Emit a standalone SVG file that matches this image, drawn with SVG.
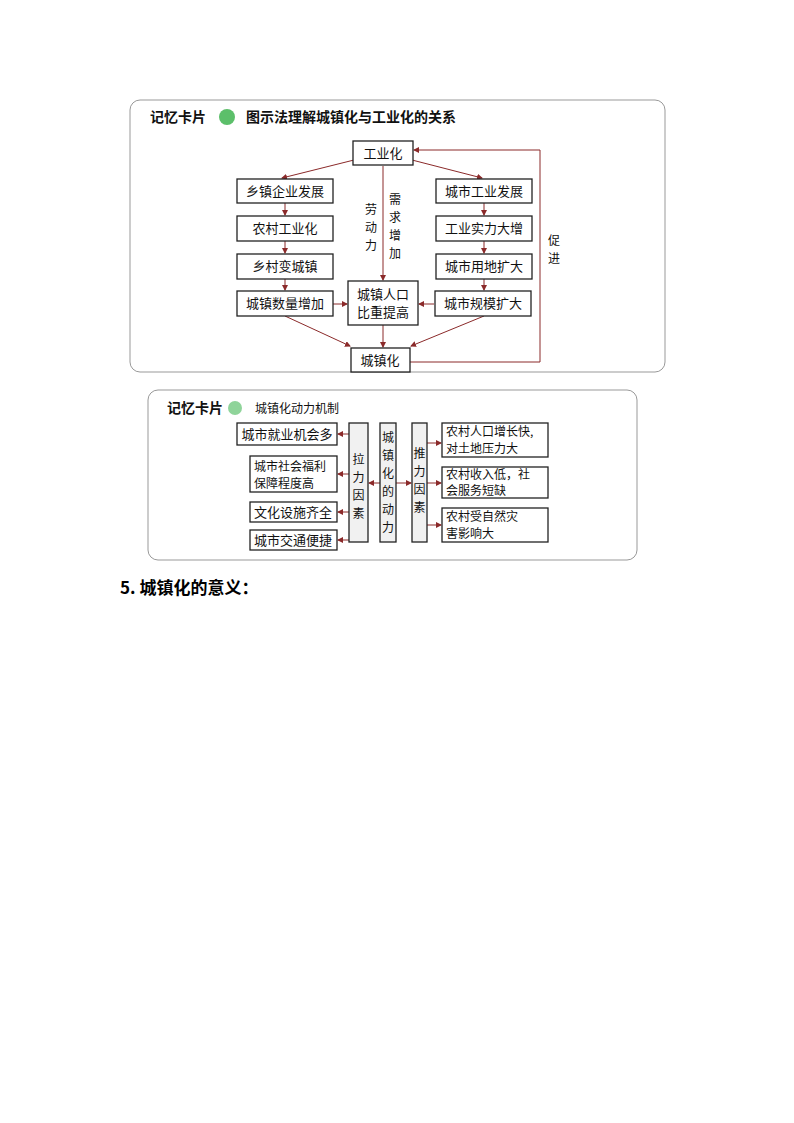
<svg xmlns="http://www.w3.org/2000/svg" width="794" height="1123" viewBox="0 0 794 1123">
<defs>
<marker id="a" markerWidth="6" markerHeight="6" refX="5" refY="3" orient="auto" markerUnits="userSpaceOnUse"><path d="M0,0 L6,3 L0,6 z" fill="#8b2a2a"/></marker>
<style>
.b{fill:#fff;stroke:#222;stroke-width:1.3}
.g{fill:#f1f1f1;stroke:#222;stroke-width:1.3}
.t{font-family:"Noto Sans CJK SC","Noto Sans",sans-serif;font-size:13px;fill:#111;text-anchor:middle}
.v{font-family:"Noto Sans CJK SC",sans-serif;font-size:12px;fill:#111;text-anchor:middle}
.s{font-family:"Noto Sans CJK SC",sans-serif;font-size:12px;fill:#111}
.h{font-family:"Noto Sans CJK SC",sans-serif;font-size:14px;font-weight:bold;fill:#111}
.c{fill:none;stroke:#8b2a2a;stroke-width:1;marker-end:url(#a)}
.card{fill:#fff;stroke:#999;stroke-width:1}
</style>
</defs>
<rect width="794" height="1123" fill="#fff"/>
<g id="card1">
<rect class="card" x="130" y="100" width="535" height="272" rx="10"/>
<text class="h" x="150" y="122">记忆卡片</text>
<circle cx="227" cy="117" r="8" fill="#5cbf6a"/>
<text class="h" x="246" y="122" font-weight="normal">图示法理解城镇化与工业化的关系</text>
</g>
<g id="connectors1">
<line class="c" x1="354" y1="160" x2="282" y2="178"/>
<line class="c" x1="412" y1="160" x2="482" y2="178"/>
<line class="c" x1="285" y1="203" x2="285" y2="215"/>
<line class="c" x1="285" y1="241" x2="285" y2="253"/>
<line class="c" x1="285" y1="279" x2="285" y2="290"/>
<line class="c" x1="484" y1="203" x2="484" y2="215"/>
<line class="c" x1="484" y1="241" x2="484" y2="253"/>
<line class="c" x1="484" y1="279" x2="484" y2="290"/>
<line class="c" x1="333" y1="304" x2="347" y2="304"/>
<line class="c" x1="434" y1="304" x2="419" y2="304"/>
<line class="c" x1="383" y1="166" x2="383" y2="280"/>
<line class="c" x1="383" y1="325" x2="383" y2="347"/>
<line class="c" x1="285" y1="316" x2="350" y2="346"/>
<line class="c" x1="484" y1="316" x2="411" y2="346"/>
<polyline class="c" points="410,362 540,362 540,150 414,150"/>
</g>
<g id="n1"><rect class="b" x="353" y="141" width="60" height="24"/><text class="t" x="383" y="158">工业化</text></g>
<g id="n2"><rect class="b" x="237" y="179" width="96" height="24"/><text class="t" x="285" y="196">乡镇企业发展</text></g>
<g id="n3"><rect class="b" x="237" y="216" width="96" height="25"/><text class="t" x="285" y="233">农村工业化</text></g>
<g id="n4"><rect class="b" x="237" y="254" width="96" height="25"/><text class="t" x="285" y="271">乡村变城镇</text></g>
<g id="n5"><rect class="b" x="237" y="291" width="96" height="25"/><text class="t" x="285" y="308">城镇数量增加</text></g>
<g id="n6"><rect class="b" x="436" y="179" width="96" height="24"/><text class="t" x="484" y="196">城市工业发展</text></g>
<g id="n7"><rect class="b" x="436" y="216" width="96" height="25"/><text class="t" x="484" y="233">工业实力大增</text></g>
<g id="n8"><rect class="b" x="436" y="254" width="96" height="25"/><text class="t" x="484" y="271">城市用地扩大</text></g>
<g id="n9"><rect class="b" x="435" y="291" width="96" height="25"/><text class="t" x="483" y="308">城市规模扩大</text></g>
<g id="n10"><rect class="b" x="348" y="281" width="70" height="44"/><text class="t" x="383" y="299">城镇人口</text><text class="t" x="383" y="317">比重提高</text></g>
<g id="n11"><rect class="b" x="351" y="348" width="59" height="24"/><text class="t" x="380" y="365">城镇化</text></g>
<g id="labels1">
<text class="v" x="371" y="214">劳</text><text class="v" x="371" y="232">动</text><text class="v" x="371" y="250">力</text>
<text class="v" x="395" y="204">需</text><text class="v" x="395" y="222">求</text><text class="v" x="395" y="240">增</text><text class="v" x="395" y="258">加</text>
<text class="v" x="554" y="245">促</text><text class="v" x="554" y="263">进</text>
</g>
<g id="card2">
<rect class="card" x="148" y="390" width="489" height="170" rx="10"/>
<text class="h" x="167" y="413">记忆卡片</text>
<circle cx="235" cy="408" r="7" fill="#8fd49a"/>
<text class="s" x="255" y="413">城镇化动力机制</text>
</g>
<g id="connectors2">
<line class="c" x1="349" y1="434" x2="338" y2="434"/>
<line class="c" x1="349" y1="474" x2="338" y2="474"/>
<line class="c" x1="349" y1="512" x2="338" y2="512"/>
<line class="c" x1="349" y1="540" x2="338" y2="540"/>
<line class="c" x1="380" y1="483" x2="369" y2="483"/>
<line class="c" x1="396" y1="483" x2="411" y2="483"/>
<line class="c" x1="427" y1="443" x2="441" y2="443"/>
<line class="c" x1="427" y1="483" x2="441" y2="483"/>
<line class="c" x1="427" y1="525" x2="441" y2="525"/>
</g>
<g id="m1"><rect class="b" x="237" y="423" width="100" height="22"/><text class="t" x="287" y="439">城市就业机会多</text></g>
<g id="m2"><rect class="b" x="250" y="456" width="87" height="36"/><text class="s" x="254" y="471">城市社会福利</text><text class="s" x="254" y="488">保障程度高</text></g>
<g id="m3"><rect class="b" x="250" y="502" width="87" height="20"/><text class="t" x="293" y="517">文化设施齐全</text></g>
<g id="m4"><rect class="b" x="250" y="530" width="87" height="20"/><text class="t" x="293" y="545">城市交通便捷</text></g>
<g id="m5"><rect class="g" x="349" y="423" width="19" height="119"/><text class="v" x="358.5" y="464">拉</text><text class="v" x="358.5" y="482">力</text><text class="v" x="358.5" y="500">因</text><text class="v" x="358.5" y="518">素</text></g>
<g id="m6"><rect class="g" x="380" y="423" width="16" height="119"/><text class="v" x="388" y="442">城</text><text class="v" x="388" y="460">镇</text><text class="v" x="388" y="478">化</text><text class="v" x="388" y="496">的</text><text class="v" x="388" y="514">动</text><text class="v" x="388" y="532">力</text></g>
<g id="m7"><rect class="g" x="412" y="423" width="15" height="119"/><text class="v" x="419.5" y="458">推</text><text class="v" x="419.5" y="476">力</text><text class="v" x="419.5" y="494">因</text><text class="v" x="419.5" y="512">素</text></g>
<g id="m8"><rect class="b" x="442" y="423" width="106" height="34"/><text class="s" x="446" y="436">农村人口增长快,</text><text class="s" x="446" y="453">对土地压力大</text></g>
<g id="m9"><rect class="b" x="442" y="467" width="106" height="31"/><text class="s" x="446" y="479">农村收入低，社</text><text class="s" x="446" y="495">会服务短缺</text></g>
<g id="m10"><rect class="b" x="442" y="508" width="106" height="34"/><text class="s" x="446" y="521">农村受自然灾</text><text class="s" x="446" y="538">害影响大</text></g>
<text x="120" y="594" style="font-family:'Noto Sans CJK SC',sans-serif;font-size:17px;font-weight:bold">5. 城镇化的意义：</text>
</svg>
